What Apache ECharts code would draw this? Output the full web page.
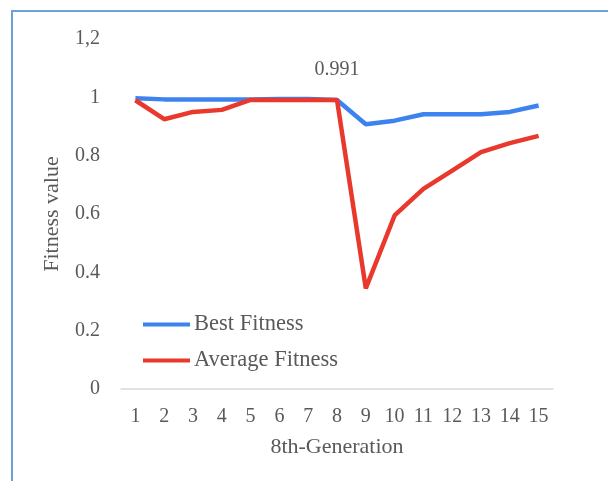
<!DOCTYPE html>
<html>
<head>
<meta charset="utf-8">
<script src="https://cdn.jsdelivr.net/npm/echarts@6/dist/echarts.min.js"></script>
<style>
html,body{margin:0;padding:0;background:#fff;}
#chart{width:608px;height:481px;position:absolute;left:0;top:0;}
#frame{position:absolute;left:11px;top:10px;width:600px;height:480px;border-left:2px solid #69a3dc;border-top:2px solid #69a3dc;pointer-events:none;}
</style>
</head>
<body>
<div id="chart"></div>
<div id="frame"></div>
<script>
const generations = ['1','2','3','4','5','6','7','8','9','10','11','12','13','14','15'];
const bestFitness = [0.997, 0.993, 0.993, 0.993, 0.993, 0.994, 0.994, 0.991, 0.908, 0.92, 0.942, 0.942, 0.942, 0.95, 0.972];
const averageFitness = [0.99, 0.925, 0.95, 0.957, 0.991, 0.991, 0.991, 0.991, 0.345, 0.595, 0.686, 0.749, 0.812, 0.843, 0.868];
const yTickLabels = ['0', '0.2', '0.4', '0.6', '0.8', '1', '1,2'];
const annotatedIndex = 7;
const annotationText = '0.991';

const chart = echarts.init(document.getElementById('chart'));
const font = 'Liberation Serif';
const grey = '#595959';

chart.setOption({
  animation: false,
  grid: {left: 121, right: 55, top: 39, bottom: 92},
  legend: {
    orient: 'vertical',
    left: 138,
    top: 308,
    itemWidth: 47,
    itemHeight: 4,
    itemGap: 13,
    icon: 'rect',
    textStyle: {fontFamily: font, fontSize: 22.5, color: grey, padding: [0,0,0,-1]},
    data: ['Best Fitness', 'Average Fitness']
  },
  xAxis: {
    type: 'category',
    data: generations,
    boundaryGap: true,
    name: '8th-Generation',
    nameLocation: 'middle',
    nameGap: 47,
    nameTextStyle: {fontFamily: font, fontSize: 22, color: grey},
    axisLine: {lineStyle: {color: '#d9d9d9', width: 1.5}},
    axisTick: {show: false},
    axisLabel: {fontFamily: font, fontSize: 20, color: grey, margin: 18, interval: 0}
  },
  yAxis: {
    type: 'value',
    min: 0,
    max: 1.2,
    interval: 0.2,
    name: 'Fitness value',
    nameLocation: 'middle',
    nameGap: 58,
    nameTextStyle: {fontFamily: font, fontSize: 22, color: grey},
    splitLine: {show: false},
    axisLine: {show: false},
    axisTick: {show: false},
    axisLabel: {
      fontFamily: font, fontSize: 20, color: grey, margin: 21,
      formatter: v => yTickLabels[Math.round(v / 0.2)]
    }
  },
  series: [
    {
      name: 'Best Fitness',
      type: 'line',
      data: bestFitness,
      showSymbol: false,
      symbol: 'none',
      color: '#3c83ef',
      lineStyle: {width: 4.5, color: '#3c83ef'},
      markPoint: {
        symbol: 'circle',
        symbolSize: 0,
        data: [{
          coord: [annotatedIndex, bestFitness[annotatedIndex]],
          label: {show: true, position: 'top', distance: 20, formatter: annotationText,
                  fontFamily: font, fontSize: 20, color: grey}
        }]
      },
      z: 2
    },
    {
      name: 'Average Fitness',
      type: 'line',
      data: averageFitness,
      showSymbol: false,
      symbol: 'none',
      color: '#e8392c',
      lineStyle: {width: 4.5, color: '#e8392c'},
      z: 3
    }
  ]
});
</script>
</body>
</html>
